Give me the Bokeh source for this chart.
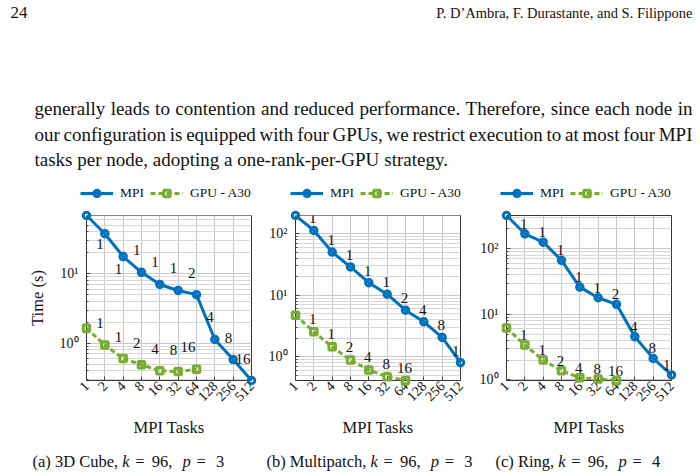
import math

from bokeh.core.properties import value
from bokeh.embed import file_html
from bokeh.layouts import column, row
from bokeh.models import (ColumnDataSource, FixedTicker, Label, Legend,
                          LegendItem, NumeralTickFormatter, Range1d)
from bokeh.plotting import figure
from bokeh.resources import INLINE

# ---------------------------------------------------------------- data
TASKS = [1, 2, 4, 8, 16, 32, 64, 128, 256, 512]
GPU_TASKS = [1, 2, 4, 8, 16, 32, 64]

# number of nodes used for each run (printed next to the points)
MPI_NODES = ["", "1", "1", "1", "1", "1", "2", "4", "8", "16"]
GPU_NODES = ["", "1", "1", "2", "4", "8", "16"]

# solve time in seconds
CUBE_MPI = [69.0, 37.7, 17.7, 10.5, 7.0, 5.74, 5.0, 1.13, 0.58, 0.29]
CUBE_GPU = [1.64, 0.94, 0.60, 0.49, 0.40, 0.39, 0.42]

MULTIPATCH_MPI = [198.0, 113.0, 50.4, 28.8, 16.0, 10.4, 5.7, 3.69, 2.06, 0.80]
MULTIPATCH_GPU = [4.74, 2.54, 1.45, 0.88, 0.61, 0.47, 0.41]

RING_MPI = [321.0, 169.0, 126.0, 66.5, 26.0, 17.9, 14.2, 4.55, 2.13, 1.19]
RING_GPU = [6.2, 3.4, 2.01, 1.38, 1.08, 1.03, 0.98]

SERIES_NAMES = ["MPI", "GPU - A30"]
Y_DECADES = [1, 10, 100]
Y_LABELS = {1: "10\u2070", 10: "10\u00b9", 100: "10\u00b2"}

CAPTION_NAMES = ["(a) 3D Cube,", "(b) Multipatch,", "(c) Ring,"]
CAPTION_K = ["96", "96", "96"]
CAPTION_P = ["3", "3", "4"]

# ---------------------------------------------------------------- style
FONT = "Liberation Serif"
BLUE = "#0072BD"
GREEN = "#77AC30"
INK = "#111111"
FRAME = 165
FRAME_TOP = 215
PANEL_TOP = 8
BOTTOM_BORDER = 65

HEADER_LEFT = "24"
HEADER_RIGHT = "P. D\u2019Ambra, F. Durastante, and S. Filippone"
PARAGRAPH = [
    "generally leads to contention and reduced performance. Therefore, since each node in",
    "our configuration is equipped with four GPUs, we restrict execution to at most four MPI",
    "tasks per node, adopting a one-rank-per-GPU strategy.",
]

# Times/Liberation Serif advance widths (1/1000 em) used to set the text
ADV = dict(zip("abcdefghijklmnopqrstuvwxyz",
               [444, 500, 444, 500, 444, 333, 500, 500, 278, 278, 500, 278, 778,
                500, 500, 500, 500, 333, 389, 278, 500, 500, 722, 500, 500, 444]))
ADV.update(dict(zip("ABCDEFGHIJKLMNOPQRSTUVWXYZ",
                    [722, 667, 667, 722, 611, 556, 722, 722, 333, 389, 722, 611, 889,
                     722, 722, 556, 722, 667, 556, 611, 722, 722, 944, 722, 722, 611])))
ADV.update({",": 250, ".": 250, "-": 333, " ": 250, "(": 333, ")": 333})


def word_width(word, size):
    return sum(ADV.get(ch, 500) for ch in word) * size / 1000.0


def text_label(x, y, text, size, align="left", style="normal"):
    return Label(x=x, y=y, text=text, text_font=FONT, text_font_size=f"{size}px",
                 text_font_style=style, text_align=align,
                 text_baseline="alphabetic", text_color=INK)


def make_panel(mpi, gpu, lab_align, lab_dx, mpi_dy, gpu_dy,
               border_left, border_right, ylabel=None):
    lo = min(min(mpi), min(gpu))
    hi = max(max(mpi), max(gpu))
    p = figure(width=border_left + FRAME + border_right,
               height=PANEL_TOP + FRAME + BOTTOM_BORDER,
               x_axis_type="log", y_axis_type="log",
               x_range=Range1d(TASKS[0], TASKS[-1]),
               y_range=Range1d(lo, hi),
               output_backend="svg", toolbar_location=None,
               min_border_left=border_left, min_border_right=border_right,
               min_border_top=PANEL_TOP, min_border_bottom=BOTTOM_BORDER,
               background_fill_color="white", border_fill_color="white")

    src_m = ColumnDataSource(dict(x=TASKS, y=mpi, lab=MPI_NODES, dy=mpi_dy))
    src_g = ColumnDataSource(dict(x=GPU_TASKS, y=gpu, lab=GPU_NODES, dy=gpu_dy))

    p.line("x", "y", source=src_m, line_color=BLUE, line_width=3)
    p.line("x", "y", source=src_g, line_color=GREEN, line_width=3,
           line_dash="5 3")
    p.scatter("x", "y", source=src_m, marker="circle", size=6.5,
              line_color=BLUE, line_width=3, fill_alpha=0, level="overlay")
    p.scatter("x", "y", source=src_g, marker="square", size=6.5,
              line_color=GREEN, line_width=3, fill_alpha=0, level="overlay")

    for src in (src_m, src_g):
        p.text("x", "y", text="lab", source=src, x_offset=lab_dx,
               y_offset="dy", text_align=lab_align, text_baseline="middle",
               text_font=value(FONT), text_font_size="15px",
               text_color=INK)

    # axes
    p.xaxis.ticker = FixedTicker(ticks=TASKS)
    p.xaxis.formatter = NumeralTickFormatter(format="0")
    p.xaxis.major_label_orientation = math.pi / 4
    p.xaxis.major_label_standoff = 3
    p.xaxis.axis_label = "MPI Tasks"
    p.xaxis.axis_label_standoff = 10

    minor = [m * 10.0 ** e for e in range(-1, 3) for m in range(2, 10)]
    p.yaxis.ticker = FixedTicker(ticks=Y_DECADES, minor_ticks=minor)
    p.yaxis.major_label_overrides = Y_LABELS
    p.yaxis.major_label_standoff = 8
    if ylabel:
        p.yaxis.axis_label = ylabel
        p.yaxis.axis_label_standoff = 10

    for ax in p.axis:
        ax.axis_line_color = None
        ax.major_tick_in = 4
        ax.major_tick_out = 0
        ax.minor_tick_in = 2
        ax.minor_tick_out = 0
        ax.major_tick_line_color = "#444444"
        ax.minor_tick_line_color = "#444444"
        ax.major_label_text_font = FONT
        ax.major_label_text_font_size = "14px"
        ax.major_label_text_color = INK
        ax.axis_label_text_font = FONT
        ax.axis_label_text_font_style = "normal"
        ax.axis_label_text_font_size = "16.5px"
        ax.axis_label_text_color = INK

    p.xgrid.grid_line_color = "#c8c8c8"
    p.ygrid.grid_line_color = "#c8c8c8"
    p.ygrid.minor_grid_line_color = "#d6d6d6"
    p.outline_line_color = "#333333"
    p.outline_line_width = 1
    p.outline_line_alpha = 1
    return p


# label offsets (screen px) for the node counts
UP_A = -22
panel_a = make_panel(CUBE_MPI, CUBE_GPU, "right", -1,
                     [UP_A, 10, 12] + [UP_A] * 7, [UP_A] * 7,
                     86, 10, ylabel="Time (s)")
panel_b = make_panel(MULTIPATCH_MPI, MULTIPATCH_GPU, "center", -1,
                     [-12] * 10, [-13] * 7, 34, 12)
panel_c = make_panel(RING_MPI, RING_GPU, "center", -1,
                     [-10] * 10, [-10] * 7, 34, 29)

# ---------------------------------------------------------------- page text + legends
TOP_H = FRAME_TOP - PANEL_TOP
BODY_SIZE = 19
LEFT, RIGHT = 34, 692

top = figure(width=700, height=TOP_H, x_range=Range1d(0, 700),
             y_range=Range1d(TOP_H, 0), x_axis_location=None,
             y_axis_location=None, output_backend="svg",
             toolbar_location=None, min_border=0)
top.grid.visible = False
top.outline_line_color = None

top.add_layout(text_label(10, 12, HEADER_LEFT, 17))
top.add_layout(text_label(RIGHT, 12, HEADER_RIGHT, 14.5, align="right"))

for i, line in enumerate(PARAGRAPH):
    base = 108 + 25.5 * i
    words = line.split(" ")
    widths = [word_width(w, BODY_SIZE) for w in words]
    last = i == len(PARAGRAPH) - 1
    gap = (BODY_SIZE * 0.25 if last
           else (RIGHT - LEFT - sum(widths)) / (len(words) - 1))
    x = LEFT
    for w, wd in zip(words, widths):
        top.add_layout(text_label(x, base, w, BODY_SIZE))
        x += wd + gap

# legend keys: hidden renderers that carry the series styling
key_src_m = ColumnDataSource(dict(x=TASKS, y=CUBE_MPI))
key_src_g = ColumnDataSource(dict(x=GPU_TASKS, y=CUBE_GPU))
key_mpi = [top.line("x", "y", source=key_src_m, line_color=BLUE, line_width=3,
                    visible=False),
           top.scatter("x", "y", source=key_src_m, marker="circle", size=6.5,
                       line_color=BLUE, line_width=3, fill_alpha=0,
                       visible=False)]
key_gpu = [top.line("x", "y", source=key_src_g, line_color=GREEN, line_width=3,
                    line_dash="5 3", visible=False),
           top.scatter("x", "y", source=key_src_g, marker="square", size=6.5,
                       line_color=GREEN, line_width=3, fill_alpha=0,
                       visible=False)]
for left_px in (80, 290, 500):
    top.add_layout(Legend(
        items=[LegendItem(label=SERIES_NAMES[0], renderers=key_mpi),
               LegendItem(label=SERIES_NAMES[1], renderers=key_gpu)],
        orientation="horizontal", location=(left_px, 6),
        glyph_width=33, glyph_height=16, label_standoff=7, label_height=16,
        spacing=6, padding=0, margin=0, border_line_color=None,
        background_fill_alpha=0, label_text_font=FONT,
        label_text_font_size="13.5px", label_text_color=INK))

# ---------------------------------------------------------------- captions
CAP_SIZE = 16.5
CAP_START = [32, 266, 495]
# math part offsets after the prefix, in em: k, =, value, p, =, value
MATH_EM = [0.0, 0.78, 1.78, 3.65, 4.5, 5.68]

bottom = figure(width=700, height=475 - FRAME_TOP - FRAME - BOTTOM_BORDER,
                x_range=Range1d(0, 700), y_range=Range1d(475, 445),
                x_axis_location=None, y_axis_location=None,
                output_backend="svg", toolbar_location=None, min_border=0)
bottom.grid.visible = False
bottom.outline_line_color = None
for name, kval, pval, x0 in zip(CAPTION_NAMES, CAPTION_K, CAPTION_P, CAP_START):
    xk = x0 + word_width(name + " ", CAP_SIZE)
    pieces = [(name, x0, "normal")] + [
        (txt, xk + em * CAP_SIZE, style) for txt, em, style in zip(
            ["k", "=", kval + ",", "p", "=", pval], MATH_EM,
            ["italic", "normal", "normal", "italic", "normal", "normal"])]
    for txt, x, style in pieces:
        bottom.add_layout(text_label(x, 461, txt, CAP_SIZE, style=style))

page = column(top, row(panel_a, panel_b, panel_c), bottom)

with open("out.html", "w") as f:
    f.write(file_html(page, INLINE))
